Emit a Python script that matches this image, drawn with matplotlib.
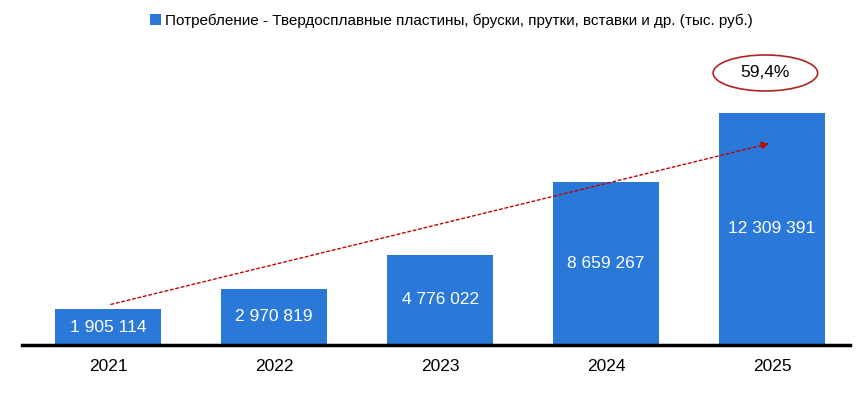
import matplotlib
matplotlib.use("Agg")
import matplotlib.pyplot as plt
from matplotlib.patches import Ellipse

years = ["2021", "2022", "2023", "2024", "2025"]
values = [1905114, 2970819, 4776022, 8659267, 12309391]
growth_label = "59,4%"
series_name = "Потребление - Твердосплавные пластины, бруски, прутки, вставки и др. (тыс. руб.)"

plt.rcParams['font.family'] = ['Liberation Sans', 'DejaVu Sans']
fig = plt.figure(figsize=(8.68, 4.12), dpi=100)
ax = fig.add_axes([22/868, 1-345/412, (850-22)/868, 305/412])
x = list(range(len(years)))
bars = ax.bar(x, values, width=0.64, color="#2a78d8", label=series_name, zorder=2)
def fmt(v):
    return f"{v:,}".replace(",", " ")
for xi, v in zip(x, values):
    ax.text(xi, v/2, fmt(v), ha="center", va="center", color="white", fontsize=12.5)
ax.set_xlim(-0.52, 4.47)
ax.set_ylim(0, 16.18e6)
ax.set_xticks(x)
ax.set_xticklabels(years, fontsize=12.5)
ax.tick_params(axis="x", length=0, pad=10)
ax.set_yticks([])
for s in ["top", "right", "left"]:
    ax.spines[s].set_visible(False)
ax.spines["bottom"].set_linewidth(2.5)
ax.spines["bottom"].set_color("black")
ax.annotate("", xy=(4.0, 10.72e6), xytext=(0.0, 2.12e6),
            arrowprops=dict(arrowstyle="-|>", color="#c00000", lw=1, ls=(0, (2, 2)),
                            mutation_scale=12))
ax.add_patch(Ellipse((3.96, 14.43e6), 0.63, 1.91e6, fill=False, edgecolor="#b22222", lw=1.2, clip_on=False))
ax.text(3.96, 14.43e6, growth_label, ha="center", va="center", fontsize=12.5)
fig.legend(handles=[bars], labels=[series_name], loc="upper center", bbox_to_anchor=(0.52, 1.0),
           frameon=False, fontsize=11, handlelength=0.7, handleheight=0.7, handletextpad=0.3)
fig.savefig("out.png", dpi=100)
